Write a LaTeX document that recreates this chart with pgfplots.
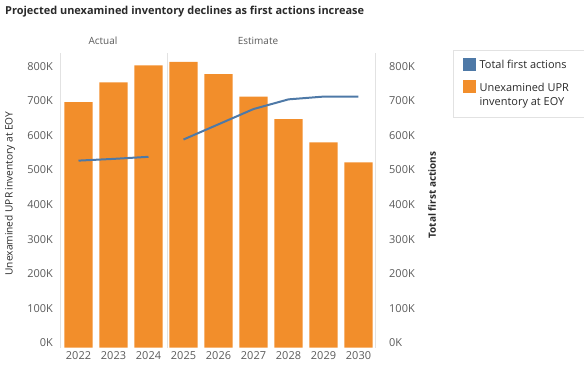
\documentclass[border=0pt]{standalone}
\usepackage{fontspec}
\setmainfont{Open Sans}
\usepackage{pgfplots}
\pgfplotsset{compat=1.18}
\definecolor{tabblue}{HTML}{4E79A7}
\definecolor{taborange}{HTML}{F28E2B}
\definecolor{tickgray}{HTML}{5A5A5A}
\definecolor{sepgray}{HTML}{E2E2E2}
\definecolor{labblack}{HTML}{2A2A2A}
\begin{document}
\begin{tikzpicture}
\path[use as bounding box] (0,0) rectangle (584bp,368bp);
\node[anchor=west, font=\fontsize{11}{13}\selectfont\bfseries, text=labblack, inner sep=0pt] at (5bp,356bp) {Projected unexamined inventory declines as first actions increase};
\begin{axis}[
  at={(61bp,20.5bp)}, anchor=south west,
  scale only axis, width=315bp, height=294.5bp,
  xmin=-0.5, xmax=8.5, ymin=0, ymax=851,
  axis line style={draw=none},
  major tick length=0pt,
  /pgf/number format/assume math mode=true,
  xtick={0,1,2,3,4,5,6,7,8},
  xticklabels={2022,2023,2024,2025,2026,2027,2028,2029,2030},
  ytick={0,100,200,300,400,500,600,700,800},
  yticklabels={0K,100K,200K,300K,400K,500K,600K,700K,800K},
  tick label style={font=\fontsize{11}{13}\selectfont, text=tickgray},
  yticklabel style={xshift=-4.7bp, yshift=4.5bp},
  xticklabel style={yshift=-0.5bp},
  ylabel={Unexamined UPR inventory at EOY},
  ylabel style={at={(axis description cs:-0.1619,0.523)}, anchor=center, font=\fontsize{10.2}{12}\selectfont, text=labblack},
  legend style={at={(1.2444,1.0102)}, anchor=north west, draw=sepgray, line width=0.8bp,
    font=\fontsize{11}{13.5}\selectfont, text=labblack,
    cells={anchor=west, align=left}, inner xsep=9.5bp, inner ysep=7.5bp, row sep=8.5bp, column sep=2bp},
  clip=false
]
\addplot[ybar, bar width=0.81, fill=taborange, draw=none, forget plot]
  coordinates {(0,709) (1,766) (2,815) (3,825) (4,790) (5,725) (6,660) (7,593) (8,535)};
\addplot[tabblue, line width=2bp, forget plot]
  coordinates {(0,540) (1,545) (2,551)};
\addplot[tabblue, line width=2bp, forget plot]
  coordinates {(3,601) (4,645) (5,689) (6,717) (7,725) (8,725)};
\draw[sepgray, line width=1bp] (axis cs:-0.5,0) -- (axis cs:-0.5,851);
\draw[sepgray, line width=1bp] (axis cs:2.53,0) -- (axis cs:2.53,851);
\draw[sepgray, line width=1bp] (axis cs:8.5,0) -- (axis cs:8.5,851);
\addlegendimage{legend image code/.code={\fill[tabblue] (0bp,-6bp) rectangle (12bp,6bp);}}
\addlegendentry{Total first actions\hspace*{8bp}}
\addlegendimage{legend image code/.code={\path[draw=none,fill=none] (0bp,-15bp) rectangle (12bp,15bp); \fill[taborange] (0bp,2.5bp) rectangle (12bp,14.5bp);}}
\addlegendentry{Unexamined UPR\\inventory at EOY}
\end{axis}
\begin{axis}[
  at={(61bp,20.5bp)}, anchor=south west,
  scale only axis, width=315bp, height=294.5bp,
  xmin=-0.5, xmax=8.5, ymin=0, ymax=851,
  hide x axis, axis y line*=right,
  axis line style={draw=none},
  major tick length=0pt,
  /pgf/number format/assume math mode=true,
  ytick={0,100,200,300,400,500,600,700,800},
  yticklabels={0K,100K,200K,300K,400K,500K,600K,700K,800K},
  tick label style={font=\fontsize{11}{13}\selectfont, text=tickgray},
  yticklabel style={anchor=west, xshift=9.7bp, yshift=4.5bp},
  ylabel={Total first actions},
  ylabel style={at={(axis description cs:1.178,0.518)}, anchor=center, rotate=0, font=\fontsize{10}{12}\selectfont\bfseries, text=labblack},
]
\end{axis}
\node[font=\fontsize{10}{12}\selectfont, text=tickgray] at (103bp,327bp) {Actual};
\node[font=\fontsize{10}{12}\selectfont, text=tickgray] at (258bp,327bp) {Estimate};
\end{tikzpicture}
\end{document}
